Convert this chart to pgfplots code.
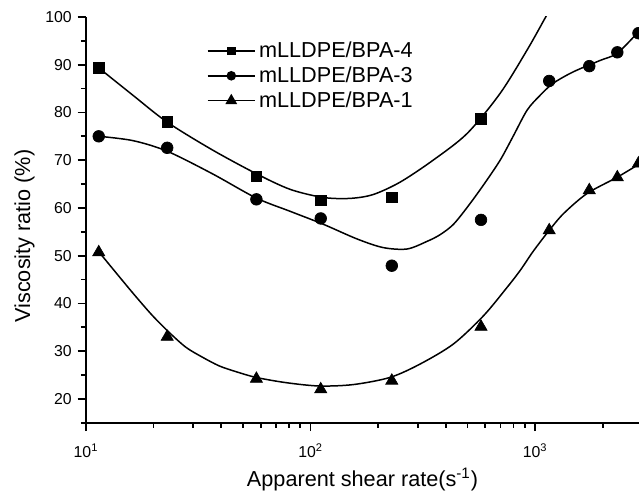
\documentclass[border=0pt]{standalone}
\usepackage{fontspec}
\setmainfont{Liberation Sans}
\usepackage{pgfplots}
\pgfplotsset{compat=1.18}
\usetikzlibrary{calc}

\begin{document}
\begin{tikzpicture}
\begin{axis}[
    name=ax,
    scale only axis,
    width=332pt,
    height=243.6pt,
    xmode=log,
    xmin=10, xmax=2900,
    ymin=15, ymax=100,
    axis x line*=bottom,
    axis y line*=left,
    axis line style={-, line width=1.2pt},
    tick align=outside,
    major tick length=5pt,
    minor tick length=3pt,
    every tick/.style={black, line width=1pt},
    xtick={10,100,1000},
    xticklabels={10\textsuperscript{1},10\textsuperscript{2},10\textsuperscript{3}},
    minor xtick={20,30,40,50,60,70,80,90,200,300,400,500,600,700,800,900,2000},
    ytick={20,30,...,100},
    minor ytick={15,25,...,95},
    /pgf/number format/assume math mode=true,
    tick label style={font=\fontsize{9.5}{10}\selectfont},
    xticklabel style={yshift=-4pt},
    label style={font=\fontsize{13}{15}\selectfont},
    xlabel={Apparent shear rate(s\textsuperscript{-1})},
    ylabel={Viscosity ratio (\%)},
    xlabel style={at={(axis description cs:0.5,-0.14)}, anchor=center},
    ylabel style={at={(axis description cs:-0.111,0.46)}, anchor=center},
    legend style={draw=none, fill=none,
        at={(axis description cs:0.224,0.956)}, anchor=north west, xshift=-5pt,
        font=\fontsize{13}{15}\selectfont, row sep=0pt,
        cells={anchor=west}},
    legend image code/.code={\draw[mark repeat=2,mark phase=2,#1]
        plot coordinates {(0cm,0cm) (0.5cm,0cm) (1.0cm,0cm)};},
]

\addlegendimage{black, line width=0.9pt, mark=square*, mark size=2.2pt}
\addlegendentry{mLLDPE/BPA-4}
\addlegendimage{black, line width=0.9pt, mark=*, mark size=2.4pt}
\addlegendentry{mLLDPE/BPA-3}
\addlegendimage{black, line width=0.9pt, mark=triangle*, mark size=3.2pt}
\addlegendentry{mLLDPE/BPA-1}

% fitted curves
\addplot[black, line width=0.9pt, smooth, no marks, forget plot] coordinates {
    (11.43,89.3) (16.19,83.6) (22.95,78.0) (36.41,72.2) (57.18,67.2) (81.04,63.9)
    (113.7,62.2) (149.9,62.0) (189.8,62.8) (250.4,65.4) (351.3,70.0) (497.9,75.6)
    (698.4,84.0) (921.3,93.1) (1108,99.8) (1228,103.6)
};
\addplot[black, line width=0.9pt, smooth, no marks, forget plot] coordinates {
    (11.46,75.0) (16.19,74.1) (22.95,71.9) (36.41,67.2) (57.18,62.1) (81.04,59.3)
    (113.7,56.6) (161.1,53.5) (210.3,51.7) (269,51.4) (330.3,53.0) (377.5,54.4)
    (431.3,56.5) (497.9,60.1) (586.6,64.7) (698.4,70.0) (798,75.0) (921.3,80.5)
    (1052.7,83.6) (1202.5,86.1) (1476.6,88.5) (1947.8,90.9) (2319,92.4)
    (2847,96.6) (3090,98.3)
};
\addplot[black, line width=0.9pt, smooth, no marks, forget plot] coordinates {
    (11.46,50.7) (14.07,45.6) (16.70,41.4) (19.82,37.4) (23.50,33.9) (27.89,30.8)
    (33.10,28.7) (39.25,26.9) (46.58,25.7) (57.18,24.5) (77.79,23.4) (109.4,22.7)
    (155.1,23.0) (226,24.5) (307.4,27.3) (432.6,31.5) (588.6,37.4) (748.2,43.3)
    (857.5,46.9) (979.7,50.9) (1146,55.1) (1337,58.8) (1700,63.0) (2312,66.4)
    (2838,68.9) (3090,70.0)
};

% measured points
\addplot[black, only marks, mark=square*, mark size=3.2pt, forget plot] coordinates {
    (11.4,89.3) (23.0,78.0) (57.4,66.6) (111,61.6) (230,62.2) (574,78.6) (1155,100.5)
};
\addplot[black, only marks, mark=*, mark size=3.5pt, forget plot] coordinates {
    (11.4,75.0) (23.0,72.6) (57.4,61.8) (111,57.8) (230,47.9) (574,57.5)
    (1155,86.6) (1742,89.7) (2322,92.6) (2884,96.6)
};
\addplot[black, only marks, mark=triangle*, mark size=4.2pt, forget plot] coordinates {
    (11.4,50.7) (23.0,33.0) (57.4,24.2) (111,22.0) (230,23.8) (574,35.1)
    (1155,55.3) (1742,63.7) (2322,66.4) (2884,69.3)
};

\end{axis}
\pgfresetboundingbox
\path ($(ax.south west)+(-51.6pt,-42.6pt)$) rectangle ($(ax.north east)+(0pt,10.2pt)$);
\end{tikzpicture}
\end{document}
